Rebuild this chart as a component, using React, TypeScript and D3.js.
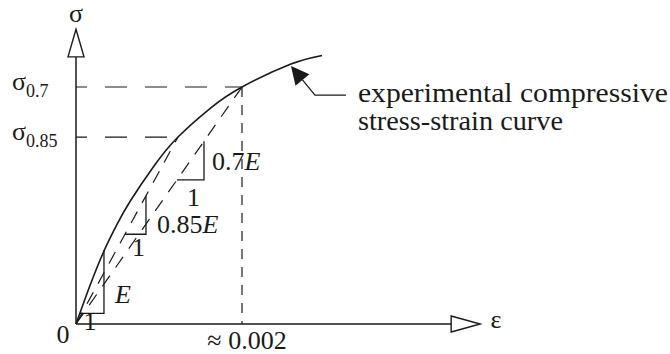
import React from "react";
import * as d3 from "d3";

// Experimental compressive stress-strain curve (strain, stress in MPa)
const strain = [0, 0.0001687, 0.0003373, 0.000494, 0.0006506, 0.0009398, 0.001229, 0.001614, 0.002, 0.00259, 0.002964];
const stress = [0, 4.31, 8.17, 11.14, 13.71, 17.69, 20.93, 24.12, 26.53, 29.1, 30.06];

// Secant reference points on the curve
const secantNames = ["0.7", "0.85"];
const secantStrain = [0.002, 0.001229];
const secantStress = [26.53, 20.93];

// Initial tangent (modulus E) reference point
const tangentStrain = 0.000337;
const tangentStress = 8.28;

// Slope triangles: [strain at start of horizontal leg, strain at vertical leg]
const triangleE = [0.0000482, 0.000337];
const triangle085 = [0.00059, 0.000843];
const triangle07 = [0.001217, 0.001542];

// Axis extents (data units)
const xAxisEnd = 0.00452;
const xAxisTip = 0.00487;
const yAxisEnd = 29.9;
const yAxisTip = 33.0;

const xTickLabel = "≈ 0.002";
const annotationLines = ["experimental compressive", "stress-strain curve"];
const annotationWidths = [310, 205];
const annotationStrain = 0.00259;
const annotationStress = 29.1;

const W = 670;
const H = 354;
const FONT = "'Liberation Serif', 'Times New Roman', serif";

export default function App() {
  const x = d3.scaleLinear().domain([0, 0.002]).range([76, 242]);
  const y = d3.scaleLinear().domain([0, 30]).range([324, 56]);

  const pts: [number, number][] = strain.map((s, i) => [s, stress[i]]);
  const curve = d3
    .line<[number, number]>()
    .x((d) => x(d[0]))
    .y((d) => y(d[1]))
    .curve(d3.curveNatural)(pts) as string;

  const x0 = x(0);
  const y0 = y(0);

  // secant / tangent slopes
  const E = tangentStress / tangentStrain;
  const slope07 = secantStress[0] / secantStrain[0];
  const slope085 = secantStress[1] / secantStrain[1];

  const triPath = (t: number[], k: number) => {
    const [a, b] = t;
    return `M${x(a)},${y(k * a)} L${x(b)},${y(k * a)} L${x(b)},${y(k * b)}`;
  };

  // annotation arrow
  const tip: [number, number] = [x(annotationStrain), y(annotationStress) + 2];
  const elbow: [number, number] = [tip[0] + 24, tip[1] + 29];
  const dx = elbow[0] - tip[0];
  const dy = elbow[1] - tip[1];
  const len = Math.hypot(dx, dy);
  const ux = dx / len;
  const uy = dy / len;
  const headLen = 18;
  const headHalf = 9;
  const bc: [number, number] = [tip[0] + ux * headLen, tip[1] + uy * headLen];
  const c1: [number, number] = [bc[0] - uy * headHalf, bc[1] + ux * headHalf];
  const c2: [number, number] = [bc[0] + uy * headHalf, bc[1] - ux * headHalf];

  const stroke = "#1a1a1a";

  const xa = x(xAxisEnd);
  const xt = x(xAxisTip);
  const ya = y(yAxisEnd);
  const yt = y(yAxisTip);

  return (
    <svg
      width={W}
      height={H}
      viewBox={`0 0 ${W} ${H}`}
      style={{ position: "absolute", left: 0, top: 0, background: "#fff" }}
      fontFamily={FONT}
    >
      <rect width={W} height={H} fill="#fff" />

      {/* axes */}
      <line x1={x0} y1={y0} x2={xa} y2={y0} stroke={stroke} strokeWidth={1.5} />
      <path d={`M${xa},${y0 - 8} L${xt},${y0} L${xa},${y0 + 8} Z`} fill="#fff" stroke={stroke} strokeWidth={1.4} />
      <line x1={x0} y1={y0} x2={x0} y2={ya} stroke={stroke} strokeWidth={1.5} />
      <path d={`M${x0 - 8},${ya} L${x0},${yt} L${x0 + 8},${ya} Z`} fill="#fff" stroke={stroke} strokeWidth={1.4} />

      {/* horizontal reference levels */}
      {secantStress.map((s, i) => (
        <line
          key={"h" + i}
          x1={x0}
          y1={y(s)}
          x2={x(secantStrain[i])}
          y2={y(s)}
          stroke={stroke}
          strokeWidth={1.2}
          strokeDasharray="22 18"
          strokeDashoffset={11}
        />
      ))}

      {/* vertical reference at strain 0.002 */}
      <line
        x1={x(secantStrain[0])}
        y1={y(secantStress[0])}
        x2={x(secantStrain[0])}
        y2={y0}
        stroke={stroke}
        strokeWidth={1.2}
        strokeDasharray="10 8"
      />

      {/* secant lines */}
      {secantStress.map((s, i) => (
        <line
          key={"s" + i}
          x1={x0}
          y1={y0}
          x2={x(secantStrain[i])}
          y2={y(s)}
          stroke={stroke}
          strokeWidth={1.2}
          strokeDasharray="13 10"
        />
      ))}

      {/* slope triangles */}
      <path d={triPath(triangleE, E)} fill="none" stroke={stroke} strokeWidth={1.3} />
      <path d={triPath(triangle085, slope085)} fill="none" stroke={stroke} strokeWidth={1.3} />
      <path d={triPath(triangle07, slope07)} fill="none" stroke={stroke} strokeWidth={1.3} />

      {/* experimental curve */}
      <path d={curve} fill="none" stroke={stroke} strokeWidth={1.6} />

      {/* annotation arrow */}
      <path d={`M${tip[0]},${tip[1]} L${c1[0]},${c1[1]} L${c2[0]},${c2[1]} Z`} fill={stroke} />
      <polyline
        points={`${bc[0]},${bc[1]} ${elbow[0]},${elbow[1]} ${elbow[0] + 31},${elbow[1]}`}
        fill="none"
        stroke={stroke}
        strokeWidth={1.3}
      />
      <g fontSize={28} fill={stroke}>
        {annotationLines.map((t, i) => (
          <text
            key={t}
            x={elbow[0] + 43}
            y={elbow[1] + 7 + i * 28}
            textLength={annotationWidths[i]}
            lengthAdjust="spacingAndGlyphs"
          >
            {t}
          </text>
        ))}
      </g>

      {/* labels */}
      <g fontSize={26} fill={stroke}>
        <text x={x0} y={22} textAnchor="middle">σ</text>
        <text x={496} y={328} textAnchor="middle">ε</text>
        <text x={x0 - 13} y={343} textAnchor="middle">0</text>
        <text x={x(secantStrain[0]) + 5} y={349} textAnchor="middle">{xTickLabel}</text>

        {secantNames.map((n, i) => (
          <text key={"l" + i} x={12} y={y(secantStress[i]) + 3}>
            σ<tspan fontSize={18} dy={7}>{n}</tspan>
          </text>
        ))}

        {/* triangle labels */}
        <text x={x(triangle07[1]) + 8} y={y(slope07 * triangle07[0]) - 10}>
          {secantNames[0]}<tspan fontStyle="italic">E</tspan>
        </text>
        <text x={(x(triangle07[0]) + x(triangle07[1])) / 2 + 3} y={y(slope07 * triangle07[0]) + 26} textAnchor="middle">1</text>

        <text x={x(triangle085[1]) + 11} y={y(slope085 * triangle085[0]) - 1}>
          {secantNames[1]}<tspan fontStyle="italic">E</tspan>
        </text>
        <text x={(x(triangle085[0]) + x(triangle085[1])) / 2 + 3} y={y(slope085 * triangle085[0]) + 22} textAnchor="middle">1</text>

        <text x={x(triangleE[1]) + 11} y={y(E * triangleE[0]) - 10} fontStyle="italic">E</text>
        <text x={(x(triangleE[0]) + x(triangleE[1])) / 2 - 2} y={y(E * triangleE[0]) + 17} textAnchor="middle">1</text>
      </g>
    </svg>
  );
}
